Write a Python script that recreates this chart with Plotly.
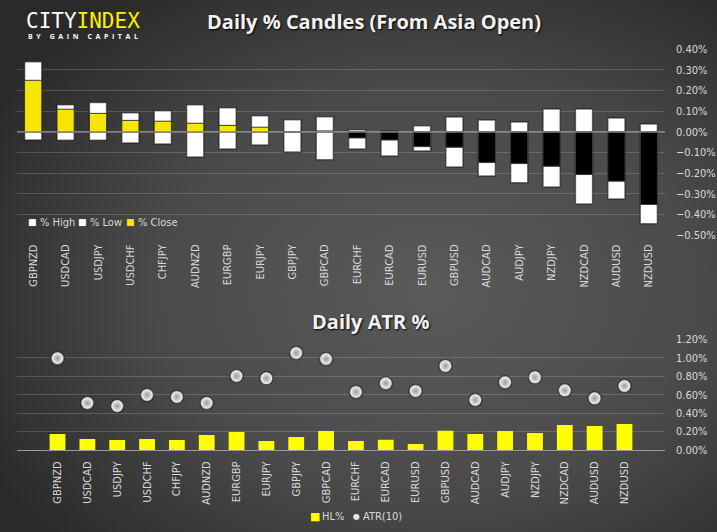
import base64
import plotly.graph_objects as go

# ---------------- data ----------------
pairs = ["GBPNZD", "USDCAD", "USDJPY", "USDCHF", "CHFJPY", "AUDNZD", "EURGBP",
         "EURJPY", "GBPJPY", "GBPCAD", "EURCHF", "EURCAD", "EURUSD", "GBPUSD",
         "AUDCAD", "AUDJPY", "NZDJPY", "NZDCAD", "AUDUSD", "NZDUSD"]
pct_high = [0.340, 0.132, 0.142, 0.093, 0.103, 0.132, 0.117, 0.079, 0.059, 0.074,
            0.011, 0.005, 0.030, 0.072, 0.058, 0.048, 0.111, 0.111, 0.068, 0.039]
pct_low = [-0.039, -0.040, -0.040, -0.053, -0.058, -0.121, -0.082, -0.063, -0.097, -0.135,
           -0.082, -0.116, -0.092, -0.169, -0.213, -0.246, -0.266, -0.348, -0.324, -0.444]
pct_close = [0.250, 0.110, 0.090, 0.056, 0.052, 0.042, 0.032, 0.023, 0.000, 0.005,
             -0.029, -0.039, -0.071, -0.074, -0.148, -0.153, -0.166, -0.206, -0.238, -0.351]
hl_pct = [0.173, 0.119, 0.108, 0.119, 0.108, 0.163, 0.195, 0.098, 0.141, 0.206,
          0.098, 0.112, 0.065, 0.210, 0.173, 0.206, 0.184, 0.271, 0.260, 0.282]
atr10 = [0.994, 0.509, 0.477, 0.596, 0.575, 0.509, 0.802, 0.777, 1.051, 0.986,
         0.629, 0.723, 0.640, 0.911, 0.542, 0.734, 0.788, 0.647, 0.560, 0.694]

top_legend = ["% High", "% Low", "% Close"]
bottom_legend = ["HL%", "ATR(10)"]

# ---------------- styles ----------------
W, H = 717, 532
YEL_TOP = "#f6e600"
YEL_BOT = "#ffff00"
GRID = "rgba(255,255,255,0.17)"
TXT = "#d9d9d9"
FAM = "DejaVu Sans Condensed, Liberation Sans, sans-serif"
TICKFONT = dict(family=FAM, size=11, color=TXT)
XDOM = [17 / W, 665 / W]
BW = 0.53
EDGE = dict(width=1.5, color="rgba(15,15,15,0.55)")

close_colors = [YEL_TOP if c >= 0 else "#000000" for c in pct_close]
fig = go.Figure()

# top chart: candles
fig.add_trace(go.Bar(x=pairs, y=pct_high, base=0, width=BW, name=top_legend[0],
                     marker=dict(color="white", line=EDGE), xaxis="x", yaxis="y"))
fig.add_trace(go.Bar(x=pairs, y=pct_low, base=0, width=BW, name=top_legend[1],
                     marker=dict(color="white", line=EDGE), xaxis="x", yaxis="y"))
fig.add_trace(go.Bar(x=pairs, y=pct_close, base=0, width=BW, name=top_legend[2],
                     marker=dict(color=close_colors, line=dict(width=1, color="#3a3a3a")),
                     xaxis="x", yaxis="y"))

# bottom chart
fig.add_trace(go.Bar(x=pairs, y=hl_pct, width=BW, name=bottom_legend[0],
                     marker=dict(color=YEL_BOT, line=dict(width=0)),
                     xaxis="x2", yaxis="y2"))
fig.add_trace(go.Scatter(x=pairs, y=atr10, mode="markers", name=bottom_legend[1],
                         marker=dict(symbol="circle", size=13, color="#ffffff",
                                     gradient=dict(type="radial", color="#999999"),
                                     line=dict(width=1.5, color="rgba(10,10,10,0.55)")),
                         xaxis="x2", yaxis="y2"))

# background gradient
svg = (f"<svg xmlns='http://www.w3.org/2000/svg' width='{W}' height='{H}' preserveAspectRatio='none'>"
       "<defs><radialGradient id='g' cx='0.6' cy='0.55' r='0.7'>"
       "<stop offset='0' stop-color='#5a5a5a'/><stop offset='0.55' stop-color='#4a4a4a'/>"
       "<stop offset='1' stop-color='#2a2a2a'/></radialGradient></defs>"
       f"<rect width='{W}' height='{H}' fill='url(#g)'/></svg>")
bg = "data:image/svg+xml;base64," + base64.b64encode(svg.encode()).decode()

yaxis_common = dict(side="right", showgrid=True, gridcolor=GRID, gridwidth=1, zeroline=False,
                    tickfont=TICKFONT, ticksuffix="%", tickformat=".2f", ticklabelstandoff=10,
                    showline=False, ticks="", fixedrange=True, automargin=False)
xaxis_common = dict(type="category", domain=XDOM, showgrid=False, zeroline=False, tickangle=-90,
                    tickfont=TICKFONT, ticks="", ticklabelstandoff=6, fixedrange=True, automargin=False)

byline = "<span style='letter-spacing:3.6px'>BY GAIN CAPITAL</span>"

def P(x, y):
    return dict(xref="paper", yref="paper", x=x / W, y=1 - y / H, showarrow=False, yanchor="middle")

annotations = [
    dict(text="Daily % Candles (From Asia Open)", xanchor="center", **P(373.5, 22),
         font=dict(family="Open Sans", size=20, color="#f2f2f2", weight="bold", shadow="1px 1px 2px #000")),
    dict(text="Daily ATR %", xanchor="center", **P(370, 321),
         font=dict(family="Open Sans", size=20, color="#f2f2f2", weight="bold", shadow="1px 1px 2px #000")),
    dict(text="CITY<span style='color:#fff200'>INDEX</span>", xanchor="left", **P(24, 21),
         font=dict(family="DejaVu Sans Mono", size=21, color="#ffffff")),
    dict(text=byline, xanchor="left", **P(26, 36),
         font=dict(family="Open Sans", size=7, color="#ffffff", weight="bold")),
]

# legend (top chart)
for (sq_x, tx_x, col), name in zip([(32.5, 38, "white"), (82, 88, "white"), (130.5, 136, YEL_TOP)], top_legend):
    annotations.append(dict(text="\u25a0", xanchor="center", **P(sq_x, 222),
                            font=dict(family="DejaVu Sans", size=9, color=col)))
    annotations.append(dict(text=name, xanchor="left", **P(tx_x, 222),
                            font=dict(family=FAM, size=11, color=TXT)))
# legend (bottom chart)
annotations.append(dict(text="\u25a0", xanchor="center", **P(315, 516.5),
                        font=dict(family="DejaVu Sans", size=11, color=YEL_BOT)))
annotations.append(dict(text=bottom_legend[0], xanchor="left", **P(320, 516.5),
                        font=dict(family=FAM, size=11, color=TXT)))
annotations.append(dict(text="\u25cf", xanchor="center", **P(356, 516.5),
                        font=dict(family="DejaVu Sans", size=8, color="#e6e6e6")))
annotations.append(dict(text=bottom_legend[1], xanchor="left", **P(361, 516.5),
                        font=dict(family=FAM, size=11, color=TXT)))

fig.update_layout(
    width=W, height=H,
    margin=dict(l=0, r=0, t=0, b=0, autoexpand=False),
    paper_bgcolor="#3c3c3c", plot_bgcolor="rgba(0,0,0,0)",
    barmode="overlay", showlegend=False,
    images=[dict(source=bg, xref="paper", yref="paper", x=0, y=1, sizex=1, sizey=1,
                 sizing="stretch", xanchor="left", yanchor="top", layer="below")],
    xaxis=dict(anchor="y", **xaxis_common),
    yaxis=dict(domain=[1 - 235.3 / H, 1 - 49.3 / H], range=[-0.5, 0.4], dtick=0.1, anchor="x", **yaxis_common),
    xaxis2=dict(anchor="y2", showline=True, linecolor="#9a9a9a", linewidth=1, **xaxis_common),
    yaxis2=dict(domain=[1 - 450 / H, 1 - 339.3 / H], range=[0, 1.2], dtick=0.2, anchor="x2", **yaxis_common),
    shapes=[dict(type="line", xref="x domain", yref="y", x0=0, x1=1, y0=0, y1=0,
                 line=dict(color="#a8a8a8", width=1), layer="above")],
    annotations=annotations,
)

fig.write_html("out.html")
